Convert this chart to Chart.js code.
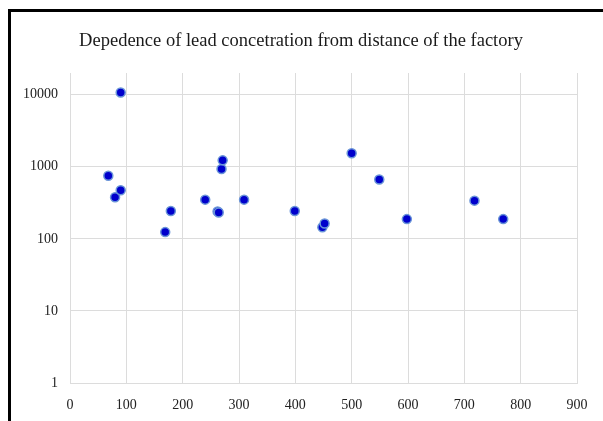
<!DOCTYPE html>
<html>
<head>
<meta charset="utf-8">
<script src="https://cdn.jsdelivr.net/npm/chart.js@4"></script>
<style>
  html, body { margin: 0; padding: 0; background: #fff; }
  #wrap { width: 603px; height: 421px; }
</style>
</head>
<body>
<div id="wrap"><canvas id="c" width="603" height="421"></canvas></div>
<script>
const chartTitle = "Depedence of lead concetration from distance of the factory";
const distances = [68, 80, 90, 90, 169, 179, 240, 262, 264, 269, 271, 309, 399, 448, 452, 500, 549, 598, 718, 769];
const concentrations = [750, 378, 473, 10700, 124, 243, 350, 240, 232, 929, 1228, 350, 243, 145, 163, 1538, 667, 188, 339, 188];
const yTickValues = [1, 10, 100, 1000, 10000];
const xTickValues = [0, 100, 200, 300, 400, 500, 600, 700, 800, 900];

const points = distances.map((d, i) => ({ x: d, y: concentrations[i] }));

const frameAndTitle = {
  id: 'frameAndTitle',
  beforeDraw(chart) {
    const ctx = chart.ctx;
    ctx.save();
    ctx.fillStyle = '#ffffff';
    ctx.fillRect(0, 0, chart.width, chart.height);
    ctx.restore();
  },
  afterDraw(chart) {
    const ctx = chart.ctx;
    ctx.save();
    ctx.fillStyle = '#000000';
    ctx.fillRect(8, 9, chart.width - 8, 3);
    ctx.fillRect(8, 9, 3, chart.height - 9);
    ctx.font = '18.5px "Liberation Serif", "Times New Roman", serif';
    ctx.fillStyle = '#1a1a1a';
    ctx.textAlign = 'center';
    ctx.textBaseline = 'middle';
    ctx.fillText(chartTitle, 301, 41);
    ctx.restore();
  }
};

const tickFont = { family: '"Liberation Serif", "Times New Roman", serif', size: 14 };

new Chart(document.getElementById('c'), {
  type: 'scatter',
  data: {
    datasets: [{
      data: points,
      backgroundColor: '#0000CC',
      borderColor: '#6a95d8',
      borderWidth: 1.5,
      pointRadius: 4.5,
      pointHoverRadius: 4.5
    }]
  },
  options: {
    responsive: false,
    animation: false,
    layout: { padding: { top: 73, right: 26, bottom: 0, left: 0 } },
    plugins: { legend: { display: false }, title: { display: false }, tooltip: { enabled: false } },
    scales: {
      x: {
        type: 'linear',
        min: 0,
        max: 900,
        afterBuildTicks(scale) { scale.ticks = xTickValues.map(v => ({ value: v })); },
        afterFit(scale) { scale.height = 38; },
        grid: { color: '#dcdcdc', lineWidth: 1, drawTicks: false },
        border: { color: '#dcdcdc' },
        ticks: { font: tickFont, color: '#222222', padding: 14, maxRotation: 0 }
      },
      y: {
        type: 'logarithmic',
        min: 1,
        max: 20000,
        afterBuildTicks(scale) { scale.ticks = yTickValues.map(v => ({ value: v })); },
        afterFit(scale) { scale.width = 70; },
        grid: { color: '#dcdcdc', lineWidth: 1, drawTicks: false },
        border: { color: '#dcdcdc' },
        ticks: { font: tickFont, color: '#222222', padding: 12, callback: v => String(v) }
      }
    }
  },
  plugins: [frameAndTitle]
});
</script>
</body>
</html>
